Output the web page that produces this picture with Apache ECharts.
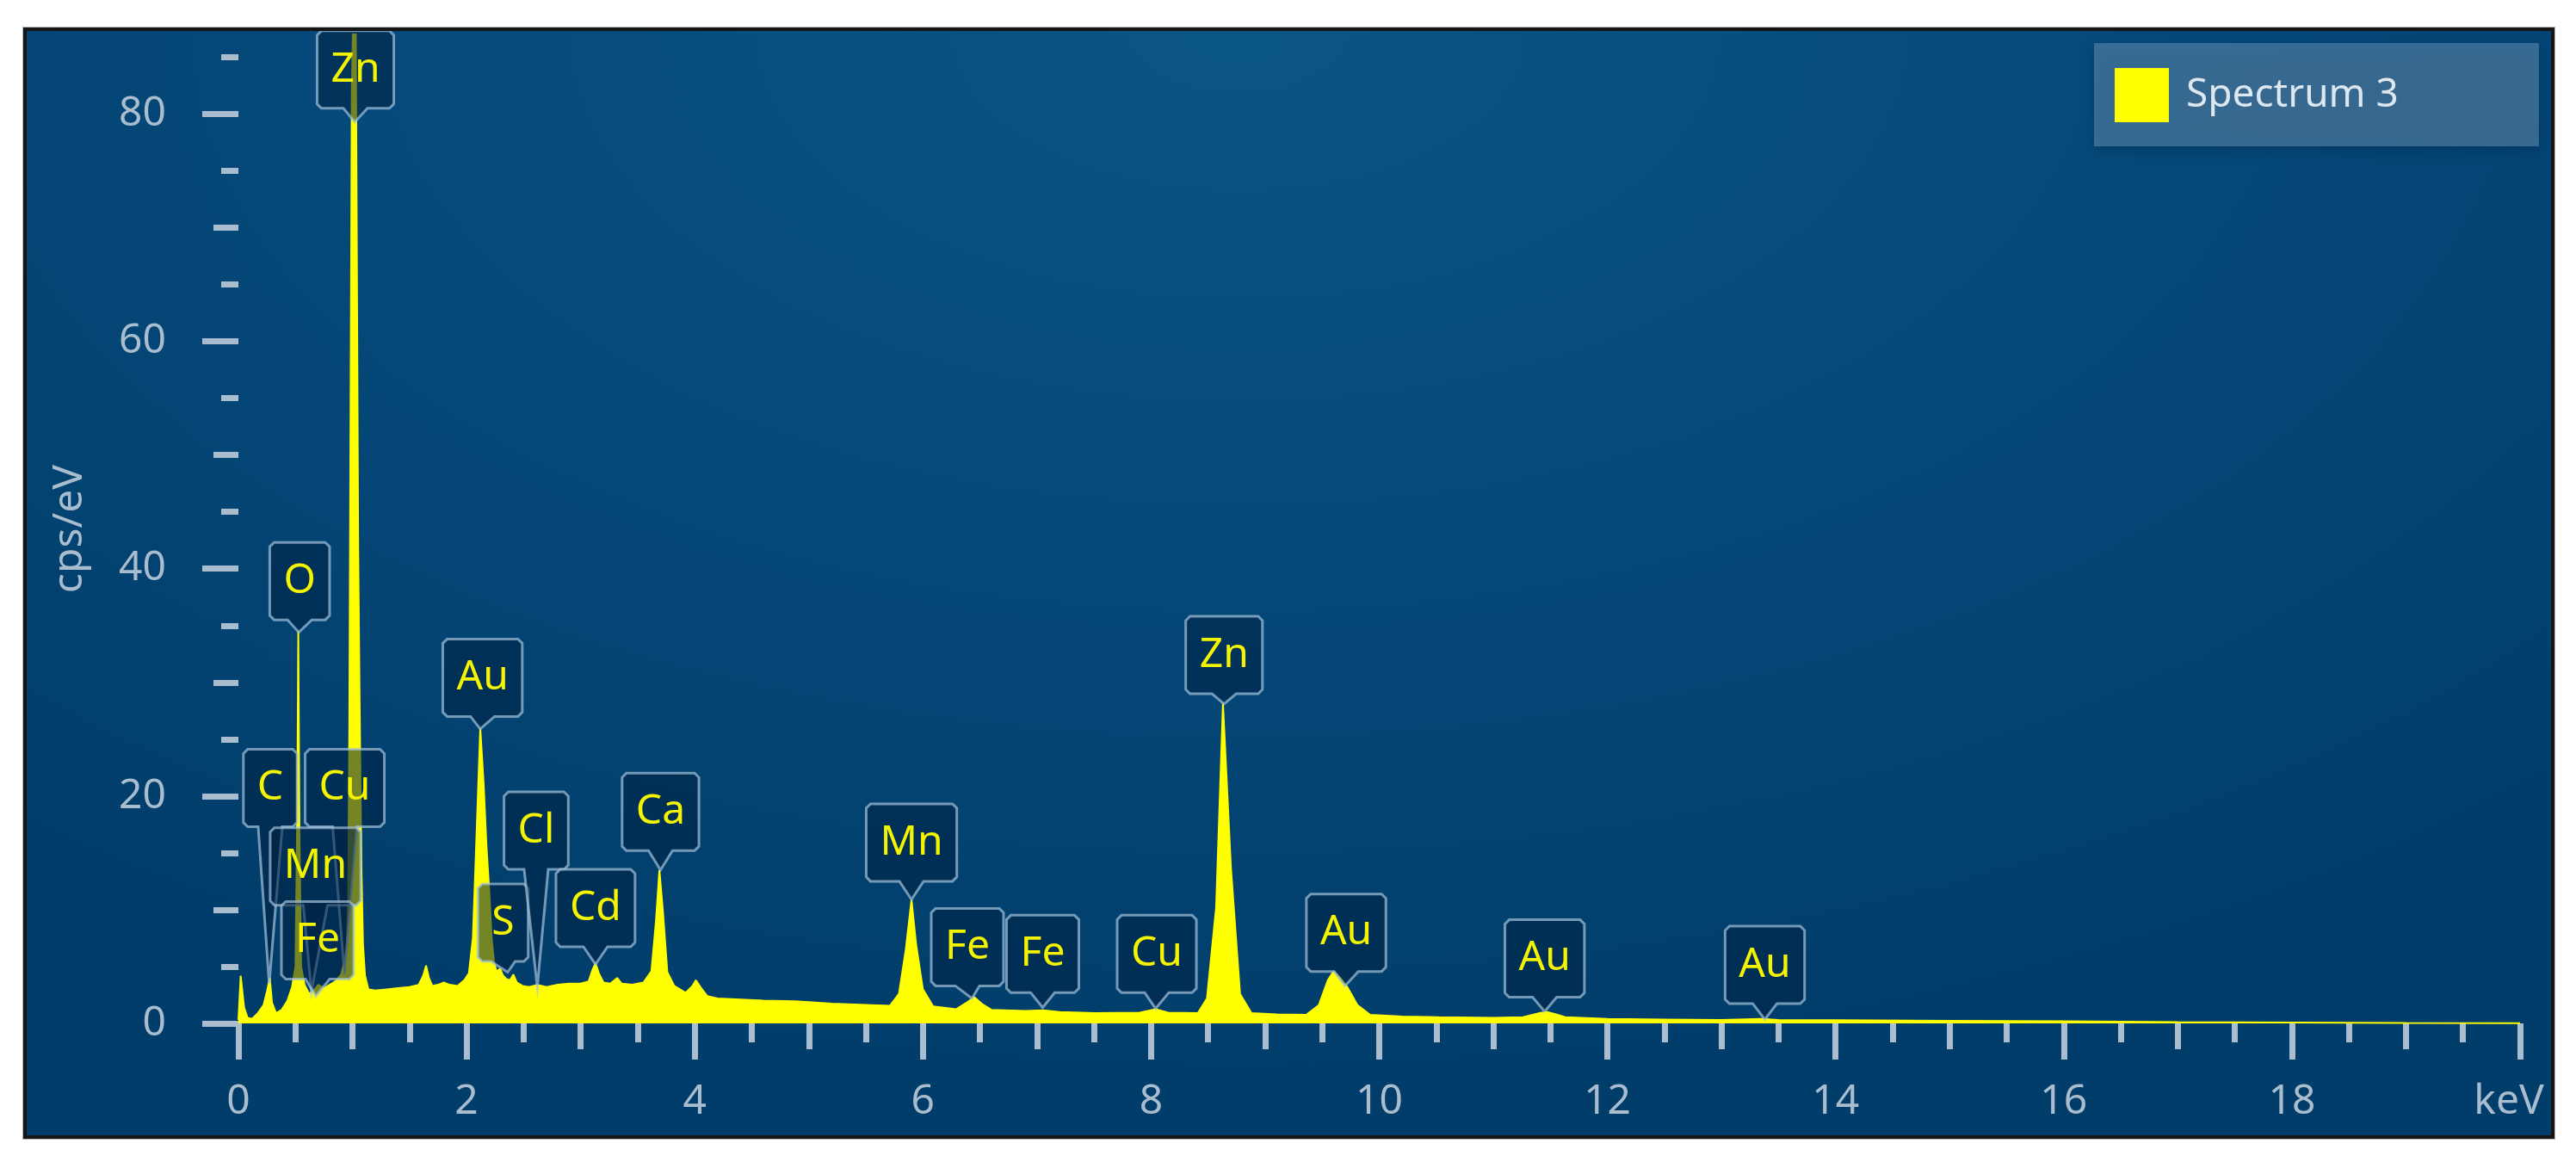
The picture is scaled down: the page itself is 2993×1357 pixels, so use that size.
<!DOCTYPE html>
<html>
<head>
<meta charset="utf-8">
<script src="https://cdn.jsdelivr.net/npm/echarts@6/dist/echarts.min.js"></script>
<style>
  html, body { margin: 0; padding: 0; background: #ffffff; }
  #frame {
    position: absolute; left: 27px; top: 32px;
    width: 2933px; height: 1283px;
    border: 4px solid #151515;
    box-shadow: 0 0 0 1px #b4b4b4;
    background: radial-gradient(ellipse 75% 95% at 48% 0%, #0a5686 0%, #054a7b 45%, #013d6a 100%);
  }
  #chart { width: 2933px; height: 1283px; }
</style>
</head>
<body>
<div id="frame"><div id="chart"></div></div>
<script>
// spectrum: energy (keV) and counts (cps/eV)
const spectrumKeV = [
  0.00, 0.02, 0.05, 0.08, 0.12, 0.17, 0.22, 0.25, 0.275, 0.295, 0.33, 0.38, 0.43, 0.47, 0.50,
  0.515, 0.525, 0.535, 0.55, 0.58, 0.62, 0.66, 0.70, 0.75, 0.80, 0.85, 0.90, 0.93, 0.95, 0.962,
  0.972, 0.982, 0.994, 1.012, 1.028, 1.04, 1.05, 1.063, 1.078, 1.092, 1.11, 1.14, 1.20, 1.30, 1.40,
  1.50, 1.58, 1.62, 1.645, 1.67, 1.70, 1.75, 1.80, 1.85, 1.92, 1.98, 2.02, 2.055, 2.085, 2.12,
  2.15, 2.175, 2.20, 2.22, 2.24, 2.26, 2.295, 2.32, 2.35, 2.38, 2.41, 2.44, 2.49, 2.55, 2.62,
  2.70, 2.80, 2.90, 3.00, 3.07, 3.10, 3.13, 3.16, 3.20, 3.26, 3.32, 3.36, 3.45, 3.55, 3.62,
  3.66, 3.69, 3.72, 3.76, 3.82, 3.92, 3.98, 4.01, 4.05, 4.11, 4.20, 4.40, 4.60, 4.88, 5.20,
  5.45, 5.71, 5.79, 5.85, 5.90, 5.94, 6.00, 6.09, 6.29, 6.38, 6.45, 6.52, 6.60, 6.90, 7.05,
  7.20, 7.51, 7.90, 8.04, 8.15, 8.41, 8.49, 8.57, 8.63, 8.70, 8.78, 8.88, 9.10, 9.36, 9.47,
  9.55, 9.60, 9.66, 9.72, 9.81, 9.92, 10.20, 10.52, 11.00, 11.26, 11.40, 11.47, 11.55, 11.63, 12.00,
  12.50, 13.00, 13.35, 13.50, 14.0, 15.0, 16.0, 17.0, 18.0, 19.0, 20.0
];
const spectrumCps = [
  0.3, 4.2, 1.4, 0.5, 0.4, 0.9, 1.6, 2.8, 4.0, 1.8, 0.9, 1.2, 2.0, 3.2, 5.0,
  18, 34.5, 17, 5.0, 3.4, 2.6, 2.9, 3.4, 3.1, 3.4, 3.7, 4.3, 5.5, 7, 11,
  26, 52, 82, 92, 90, 64, 42, 28, 14, 7, 4.2, 3.0, 2.9, 3.0, 3.1,
  3.2, 3.4, 4.2, 5.1, 4.0, 3.3, 3.4, 3.6, 3.4, 3.3, 3.8, 4.4, 7.5, 16, 26.0,
  21, 15.5, 11.5, 7.5, 5.5, 4.6, 4.8, 4.2, 3.9, 3.8, 4.3, 3.6, 3.3, 3.2, 3.4,
  3.2, 3.4, 3.5, 3.5, 3.7, 4.6, 5.3, 4.4, 3.6, 3.5, 4.0, 3.5, 3.4, 3.6, 4.6,
  9.0, 13.5, 10.0, 4.5, 3.3, 2.7, 3.3, 3.8, 3.2, 2.4, 2.2, 2.1, 2.0, 1.95, 1.75,
  1.65, 1.55, 2.6, 6.5, 10.9, 7.0, 3.0, 1.5, 1.25, 1.8, 2.3, 1.7, 1.2, 1.1, 1.15,
  1.0, 0.9, 0.95, 1.25, 0.95, 0.9, 2.2, 10.2, 28.2, 13.7, 2.6, 0.9, 0.8, 0.75, 1.6,
  3.8, 4.6, 4.0, 3.2, 1.6, 0.75, 0.6, 0.55, 0.5, 0.55, 0.9, 1.0, 0.8, 0.55, 0.4,
  0.35, 0.3, 0.4, 0.3, 0.28, 0.22, 0.18, 0.12, 0.08, 0.04, 0.02
];

// element callouts: pointer tip (peak) and bottom-centre of the label box, in data units
const calloutNames = ['Zn', 'O', 'C', 'Cu', 'Mn', 'Fe', 'Au', 'S', 'Cl', 'Cd', 'Ca', 'Mn', 'Fe', 'Fe', 'Cu', 'Zn', 'Au', 'Au', 'Au'];
const calloutTipKeV = [1.02, 0.53, 0.27, 0.93, 0.64, 0.68, 2.12, 2.36, 2.62, 3.13, 3.70, 5.90, 6.43, 7.05, 8.04, 8.64, 9.70, 11.45, 13.38];
const calloutTipCps = [79.3, 34.4, 3.5, 4.3, 2.8, 2.4, 25.9, 4.5, 3.2, 5.2, 13.5, 10.9, 2.2, 1.4, 1.3, 28.1, 3.3, 1.05, 0.35];
const calloutBoxKeV = [1.026, 0.537, 0.279, 0.932, 0.675, 0.694, 2.14, 2.32, 2.61, 3.13, 3.70, 5.90, 6.39, 7.05, 8.05, 8.64, 9.71, 11.45, 13.38];
const calloutBoxCps = [80.5, 35.5, 17.3, 17.3, 10.4, 3.9, 27.0, 5.45, 13.55, 6.74, 15.2, 12.5, 3.3, 2.7, 2.7, 29.0, 4.57, 2.3, 1.74];

// axis ticks
const xLabelTicks = [0, 2, 4, 6, 8, 10, 12, 14, 16, 18, 20];
const xMidTicks = [1, 3, 5, 7, 9, 11, 13, 15, 17, 19];
const xMinorTicks = [0.5, 1.5, 2.5, 3.5, 4.5, 5.5, 6.5, 7.5, 8.5, 9.5, 10.5, 11.5, 12.5, 13.5, 14.5, 15.5, 16.5, 17.5, 18.5, 19.5];
const yLabelTicks = [0, 20, 40, 60, 80];
const yMidTicks = [10, 30, 50, 70];
const yMinorTicks = [5, 15, 25, 35, 45, 55, 65, 75, 85];

const SERIES_NAME = 'Spectrum 3';
const FONT = '"Noto Sans", "Open Sans", sans-serif';
const AXIS_COLOR = '#a9bdcf';
const LABEL_FONT = '48px "Noto Sans"';

const spectrumData = spectrumKeV.map((e, i) => [e, spectrumCps[i]]);
const calloutData = calloutNames.map((n, i) =>
  [calloutTipKeV[i], calloutTipCps[i], calloutBoxKeV[i], calloutBoxCps[i]]);

// measure label text to size the boxes
const measureCtx = document.createElement('canvas').getContext('2d');
measureCtx.font = LABEL_FONT;
function textW(s) { return measureCtx.measureText(s).width; }

function makeX(len, ticks, withLabels) {
  return {
    type: 'value', min: 0, max: 20, position: 'bottom', offset: 9,
    axisLine: { show: false }, splitLine: { show: false },
    axisTick: { show: true, length: len, customValues: ticks, lineStyle: { color: AXIS_COLOR, width: 7 } },
    axisLabel: withLabels ? {
      show: true, customValues: xLabelTicks, margin: 58,
      color: AXIS_COLOR, fontSize: 48, fontFamily: FONT,
      formatter: v => (v === 20 ? '{k|keV}' : String(v)),
      rich: { k: { color: AXIS_COLOR, fontSize: 48, fontFamily: FONT, padding: [0, 26, 0, 0] } }
    } : { show: false }
  };
}
function makeY(len, ticks, withLabels) {
  const ax = {
    type: 'value', min: 0, max: 87, position: 'left', offset: 34,
    axisLine: { show: false }, splitLine: { show: false },
    axisTick: { show: true, length: len, customValues: ticks, lineStyle: { color: AXIS_COLOR, width: 7 } },
    axisLabel: withLabels ? {
      show: true, customValues: yLabelTicks, margin: 50,
      color: AXIS_COLOR, fontSize: 48, fontFamily: FONT
    } : { show: false }
  };
  if (withLabels) {
    ax.name = 'cps/eV';
    ax.nameLocation = 'middle';
    ax.nameGap = 138;
    ax.nameTextStyle = { color: AXIS_COLOR, fontSize: 48, fontFamily: FONT };
  }
  return ax;
}

function renderCallout(params, api) {
  const i = params.dataIndex;
  const tip = api.coord([api.value(0), api.value(1)]);
  const base = api.coord([api.value(2), api.value(3)]);
  const name = calloutNames[i];
  const w = textW(name) + 32, h = 90, c = 5, pw = 14;
  const l = base[0] - w / 2, r = base[0] + w / 2, b = base[1], t = base[1] - h;
  const pts = [
    [l + c, t], [r - c, t], [r, t + c], [r, b - c], [r - c, b],
    [base[0] + pw, b], tip, [base[0] - pw, b],
    [l + c, b], [l, b - c], [l, t + c]
  ];
  return {
    type: 'group',
    children: [
      {
        type: 'polygon', shape: { points: pts },
        style: { fill: 'rgba(0,32,66,0.55)', stroke: 'rgba(165,195,220,0.7)', lineWidth: 3 }
      },
      {
        type: 'text', x: base[0], y: b - h / 2,
        style: { text: name, fill: '#f4f400', font: LABEL_FONT, align: 'center', verticalAlign: 'middle' }
      }
    ]
  };
}

const chart = echarts.init(document.getElementById('chart'), null, { renderer: 'canvas' });
chart.setOption({
  animation: false,
  backgroundColor: 'transparent',
  grid: { left: 246, right: 36, top: 4, bottom: 130 },
  legend: {
    data: [SERIES_NAME],
    left: 2402, top: 14,
    padding: [29, 163, 28, 24],
    icon: 'rect', itemWidth: 63, itemHeight: 63,
    backgroundColor: 'rgba(105,150,188,0.5)',
    shadowBlur: 14, shadowColor: 'rgba(0,20,40,0.45)', shadowOffsetY: 6,
    textStyle: { color: '#dde7ef', fontSize: 46, fontFamily: FONT, padding: [0, 0, 0, 15] },
    selectedMode: false
  },
  xAxis: [makeX(42, xLabelTicks, true), makeX(30, xMidTicks, false), makeX(22, xMinorTicks, false)],
  yAxis: [makeY(42, yLabelTicks, true), makeY(29, yMidTicks, false), makeY(20, yMinorTicks, false)],
  series: [
    {
      name: SERIES_NAME, type: 'line', data: spectrumData,
      showSymbol: false, symbol: 'none',
      lineStyle: { color: '#ffff00', width: 2 },
      itemStyle: { color: '#ffff00' },
      areaStyle: { color: '#ffff00', opacity: 1 },
      z: 2
    },
    {
      name: 'callouts', type: 'custom', coordinateSystem: 'cartesian2d',
      data: calloutData, renderItem: renderCallout, z: 3, silent: true
    }
  ]
});
</script>
</body>
</html>
